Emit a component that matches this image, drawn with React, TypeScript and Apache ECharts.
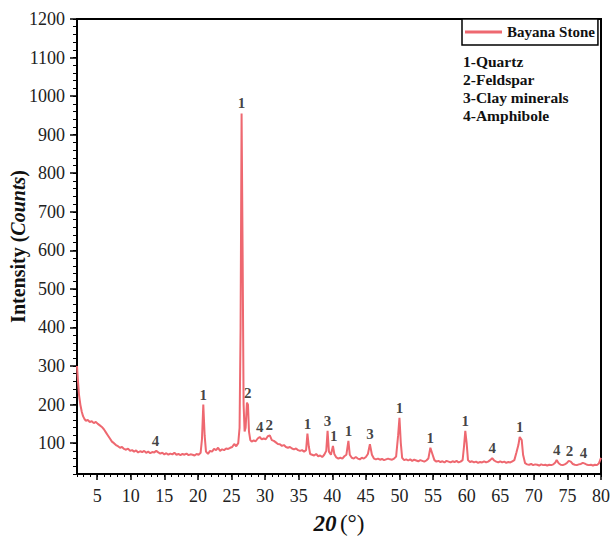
import React, { useEffect, useRef } from "react";
import * as echarts from "echarts";

const twoTheta = [
  2.0, 2.15, 2.3, 2.5, 2.7, 2.9, 3.1, 3.3, 3.6, 3.9, 4.2, 4.5, 4.8, 5.1, 5.4, 5.7, 6.0, 6.3, 6.6, 6.9,
  7.2, 7.5, 7.8, 8.1, 8.4, 8.7, 9.0, 9.3, 9.6, 9.9, 10.2, 10.5, 10.8, 11.1, 11.4, 11.7, 12.0, 12.3, 12.6, 12.9,
  13.2, 13.5, 13.8, 14.1, 14.4, 14.7, 15.0, 15.3, 15.6, 15.9, 16.2, 16.5, 16.8, 17.1, 17.4, 17.7, 18.0, 18.3, 18.6, 18.9,
  19.2, 19.5, 19.8, 20.1, 20.4, 20.6, 20.8, 21.0, 21.2, 21.5, 21.8, 22.1, 22.4, 22.7, 23.0, 23.3, 23.6, 23.9, 24.2, 24.5,
  24.8, 25.1, 25.4, 25.7, 26.0, 26.2, 26.35, 26.5, 26.65, 26.8, 26.95, 27.1, 27.3, 27.45, 27.6, 27.8, 28.0, 28.3, 28.6, 28.9,
  29.2, 29.5, 29.8, 30.1, 30.4, 30.7, 31.0, 31.3, 31.6, 31.9, 32.2, 32.5, 32.8, 33.1, 33.4, 33.7, 34.0, 34.3, 34.6, 34.9,
  35.2, 35.5, 35.8, 36.1, 36.3, 36.5, 36.7, 37.0, 37.3, 37.6, 37.9, 38.2, 38.5, 38.8, 39.1, 39.3, 39.5, 39.8, 40.1, 40.3,
  40.6, 40.9, 41.2, 41.5, 41.8, 42.1, 42.4, 42.6, 42.9, 43.2, 43.5, 43.8, 44.1, 44.4, 44.7, 45.0, 45.3, 45.6, 45.9, 46.2,
  46.5, 46.8, 47.1, 47.4, 47.7, 48.0, 48.3, 48.6, 48.9, 49.2, 49.5, 49.8, 50.0, 50.2, 50.4, 50.7, 51.0, 51.3, 51.6, 51.9,
  52.2, 52.5, 52.8, 53.1, 53.4, 53.7, 54.0, 54.3, 54.6, 54.9, 55.2, 55.5, 55.8, 56.1, 56.4, 56.7, 57.0, 57.3, 57.6, 57.9,
  58.2, 58.5, 58.8, 59.1, 59.4, 59.6, 59.8, 60.0, 60.2, 60.5, 60.8, 61.1, 61.4, 61.7, 62.0, 62.3, 62.6, 62.9, 63.2, 63.5,
  63.8, 64.1, 64.4, 64.7, 65.0, 65.3, 65.6, 65.9, 66.2, 66.5, 66.8, 67.1, 67.4, 67.7, 67.9, 68.2, 68.4, 68.7, 69.0, 69.3,
  69.6, 69.9, 70.2, 70.5, 70.8, 71.1, 71.4, 71.7, 72.0, 72.3, 72.6, 72.9, 73.2, 73.4, 73.7, 74.0, 74.3, 74.6, 74.9, 75.2,
  75.5, 75.8, 76.1, 76.4, 76.7, 77.0, 77.3, 77.6, 77.9, 78.2, 78.5, 78.8, 79.1, 79.4, 79.7, 80.0,
];
const intensity = [
  300, 260, 225, 200, 182, 170, 163, 158, 160, 155, 157, 152, 155, 150, 146, 142, 136, 128, 120, 112,
  104, 100, 95, 92, 88, 90, 85, 83, 86, 80, 82, 78, 81, 76, 79, 77, 80, 75, 78, 74,
  77, 76, 80, 76, 73, 75, 71, 74, 70, 73, 71, 75, 70, 72, 69, 72, 70, 73, 69, 71,
  70, 68, 72, 70, 75, 110, 200, 120, 78, 72, 80, 78, 85, 82, 88, 80, 84, 82, 86, 85,
  88, 90, 98, 92, 100, 140, 400, 955, 600, 200, 130, 140, 205, 200, 130, 108, 104, 107, 105, 112,
  116, 110, 112, 110, 118, 120, 108, 106, 102, 98, 97, 93, 95, 90, 88, 90, 86, 84, 86, 82,
  80, 82, 78, 82, 125, 92, 72, 70, 68, 72, 66, 68, 64, 70, 80, 132, 78, 70, 93, 72,
  63, 60, 62, 60, 66, 70, 106, 70, 62, 60, 64, 60, 58, 62, 60, 64, 72, 97, 70, 60,
  58, 60, 57, 59, 56, 58, 60, 58, 57, 60, 65, 120, 166, 100, 62, 56, 58, 55, 58, 54,
  57, 55, 53, 56, 54, 52, 55, 60, 88, 72, 56, 52, 54, 51, 53, 50, 54, 52, 50, 53,
  51, 54, 50, 52, 56, 90, 132, 100, 56, 51, 53, 50, 52, 49, 51, 50, 53, 50, 52, 56,
  61, 55, 52, 50, 53, 50, 52, 49, 51, 50, 53, 56, 75, 95, 116, 108, 70, 48, 45, 44,
  46, 43, 45, 44, 42, 45, 43, 44, 42, 44, 43, 45, 50, 56, 48, 44, 43, 45, 48, 54,
  52, 46, 44, 43, 45, 46, 49, 47, 44, 43, 44, 42, 44, 43, 48, 62,
];

// peak annotations: position, peak top, phase number
const peakPos = [13.7, 20.8, 26.5, 27.4, 29.2, 30.6, 36.3, 39.3, 40.2, 42.4, 45.6, 50.0, 54.6, 59.8, 63.8, 67.9, 73.4, 75.3, 77.4];
const peakTop = [80, 200, 955, 205, 116, 120, 125, 132, 93, 106, 97, 166, 88, 132, 61, 116, 56, 54, 49];
const peakId = ["4", "1", "1", "2", "4", "2", "1", "3", "1", "1", "3", "1", "1", "1", "4", "1", "4", "2", "4"];

const phaseKey = ["1-Quartz", "2-Feldspar", "3-Clay minerals", "4-Amphibole"];
const xMajorTicks = [5, 10, 15, 20, 25, 30, 35, 40, 45, 50, 55, 60, 65, 70, 75, 80];
const yMajorTicks = [100, 200, 300, 400, 500, 600, 700, 800, 900, 1000, 1100, 1200];

const SERIF = "'Liberation Serif', 'Times New Roman', serif";
const LINE = "#ee6870";

export default function App() {
  const ref = useRef<HTMLDivElement>(null);
  useEffect(() => {
    if (!ref.current) return;
    const chart = echarts.init(ref.current, undefined, { renderer: "svg" });
    const lineData = twoTheta.map((x, i) => [x, intensity[i]]);
    const labelData = peakPos.map((x, i) => [x, peakTop[i]]);
    chart.setOption({
      animation: false,
      backgroundColor: "#fff",
      grid: {
        left: 77, right: 10, top: 19, bottom: 66,
        show: true, borderColor: "#000", borderWidth: 2,
        outerBoundsMode: "none",
      },
      legend: {
        data: [{ name: "Bayana Stone", icon: "rect" }],
        left: 462, top: 19,
        padding: [5, 3, 5, 3],
        itemWidth: 37, itemHeight: 3, itemGap: 5,
        borderColor: "#000", borderWidth: 1.5,
        backgroundColor: "#fff",
        textStyle: { fontFamily: SERIF, fontWeight: "bold", fontSize: 15, color: "#111", lineHeight: 16 },
      },
      graphic: phaseKey.map((t, i) => ({
        type: "text",
        left: 463,
        top: 53 + i * 18.3,
        style: { text: t, fontFamily: SERIF, fontWeight: "bold", fontSize: 15.5, fill: "#111" },
      })),
      xAxis: [
        {
          type: "value", min: 2, max: 80, position: "bottom",
          name: "{i|20} {n|(°)}", nameLocation: "middle", nameGap: 38,
          nameMoveOverlap: false,
          nameTextStyle: {
            rich: {
              i: { fontFamily: SERIF, fontWeight: "bold", fontStyle: "italic", fontSize: 23, color: "#111" },
              n: { fontFamily: SERIF, fontSize: 23, color: "#111" },
            },
          },
          axisLine: { show: true, lineStyle: { color: "#000", width: 2 } },
          axisTick: { show: true, customValues: xMajorTicks, length: 6, lineStyle: { color: "#000", width: 1.5 } },
          axisLabel: { customValues: xMajorTicks, margin: 13, fontFamily: SERIF, fontSize: 18, color: "#222" },
          splitLine: { show: false },
        },
        {
          type: "value", min: 2, max: 80, interval: 1, position: "bottom",
          axisLine: { show: false },
          axisTick: { show: true, length: 3, lineStyle: { color: "#000", width: 1 } },
          axisLabel: { show: false },
          splitLine: { show: false },
        },
      ],
      yAxis: [
        {
          type: "value", min: 20, max: 1200, position: "left",
          name: "{b|Intensity (}{bi|Counts}{b|)}", nameLocation: "middle", nameGap: 49,
          nameMoveOverlap: false,
          nameTextStyle: {
            rich: {
              b: { fontFamily: SERIF, fontWeight: "bold", fontSize: 20, color: "#111" },
              bi: { fontFamily: SERIF, fontWeight: "bold", fontStyle: "italic", fontSize: 20, color: "#111" },
            },
          },
          axisLine: { show: true, lineStyle: { color: "#000", width: 2 } },
          axisTick: { show: true, customValues: yMajorTicks, length: 7, lineStyle: { color: "#000", width: 1.5 } },
          axisLabel: {
            customValues: yMajorTicks, margin: 12,
            formatter: (v: number) => String(v),
            fontFamily: SERIF, fontSize: 18, color: "#222",
          },
          splitLine: { show: false },
        },
        {
          type: "value", min: 20, max: 1200, interval: 20, position: "left",
          axisLine: { show: false },
          axisTick: { show: true, length: 4, lineStyle: { color: "#000", width: 1 } },
          axisLabel: { show: false },
          splitLine: { show: false },
        },
      ],
      series: [
        {
          name: "Bayana Stone",
          type: "line",
          xAxisIndex: 0, yAxisIndex: 0,
          data: lineData,
          symbol: "none",
          lineStyle: { color: LINE, width: 2 },
          itemStyle: { color: LINE },
        },
        {
          name: "peaks",
          type: "scatter",
          xAxisIndex: 0, yAxisIndex: 0,
          data: labelData,
          symbolSize: 1,
          itemStyle: { color: "rgba(0,0,0,0)" },
          label: {
            show: true, position: "top", distance: 2,
            formatter: (p: any) => peakId[p.dataIndex],
            fontFamily: SERIF, fontWeight: "bold", fontSize: 15, color: "#111",
          },
          silent: true,
          z: 5,
        },
      ],
    });
    return () => chart.dispose();
  }, []);
  return <div ref={ref} style={{ position: "fixed", left: 0, top: 0, width: 611, height: 540 }} />;
}
